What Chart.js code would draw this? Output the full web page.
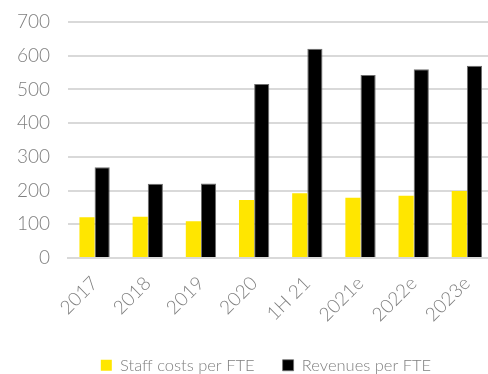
<!DOCTYPE html>
<html>
<head>
<meta charset="utf-8">
<script src="https://cdn.jsdelivr.net/npm/chart.js@4/dist/chart.umd.min.js"></script>
<style>
  html, body { margin: 0; padding: 0; background: #fff; overflow: hidden; }
  #wrap { width: 497px; height: 374px; }
</style>
</head>
<body>
<div id="wrap"><canvas id="chart" width="497" height="374"></canvas></div>
<script>
const periods = ['2017', '2018', '2019', '2020', '1H 21', '2021e', '2022e', '2023e'];
const staffCosts = [121, 122, 109, 172, 192, 179, 185, 199];
const revenues = [269, 220, 221, 516, 621, 543, 560, 570];
const yTicks = [0, 100, 200, 300, 400, 500, 600, 700];

const textGrey = '#7f7f7f';
const gridGrey = '#d9d9d9';
const fontFamily = "'Lato', 'DejaVu Sans', sans-serif";
const tickFont = { family: fontFamily, size: 19, weight: '300' };
const legendFont = { family: fontFamily, size: 16.5, weight: '300' };

const ctx = document.getElementById('chart').getContext('2d');

// centre the legend under the plot area and pin its row near the bottom edge
const placeLegend = {
    id: 'placeLegend',
    afterLayout(chart) {
        const lg = chart.legend;
        if (lg) {
            lg.left = 35;
            lg.top = 329;
            lg.bottom = chart.height;
            lg.height = lg.bottom - lg.top;
        }
    }
};

const chart = new Chart(ctx, {
    type: 'bar',
    data: {
        labels: periods,
        datasets: [{
            label: 'Staff costs per FTE',
            backgroundColor: '#ffe600',
            borderWidth: 0,
            data: staffCosts
        }, {
            label: 'Revenues per FTE',
            backgroundColor: '#000000',
            borderColor: '#6e6e6e',
            borderWidth: { top: 1, left: 1, right: 1, bottom: 0 },
            data: revenues
        }]
    },
    options: {
        responsive: false,
        animation: false,
        layout: { padding: { left: 0, right: 0, top: 22, bottom: 0 } },
        datasets: {
            bar: { categoryPercentage: 0.57, barPercentage: 1.0 }
        },
        scales: {
            x: {
                afterFit(scale) { scale.height = 86; },
                grid: { display: false, drawTicks: false },
                border: { display: true, color: gridGrey, width: 2 },
                ticks: {
                    color: textGrey,
                    font: tickFont,
                    maxRotation: 45,
                    minRotation: 45,
                    padding: 14,
                    autoSkip: false
                }
            },
            y: {
                min: 0,
                max: 700,
                afterFit(scale) {
                    scale.width = 68;
                    scale.paddingTop = 0;
                    scale.paddingBottom = 0;
                },
                afterBuildTicks(scale) { scale.ticks = yTicks.map(v => ({ value: v })); },
                grid: { color: gridGrey, lineWidth: 2, drawTicks: false },
                border: { display: false },
                ticks: {
                    color: textGrey,
                    font: tickFont,
                    padding: 18
                }
            }
        },
        plugins: {
            legend: {
                position: 'bottom',
                maxHeight: 30,
                labels: {
                    color: textGrey,
                    font: legendFont,
                    boxWidth: 11,
                    boxHeight: 11,
                    padding: 28
                }
            },
            tooltip: { enabled: false }
        }
    },
    plugins: [placeLegend]
});
</script>
</body>
</html>
